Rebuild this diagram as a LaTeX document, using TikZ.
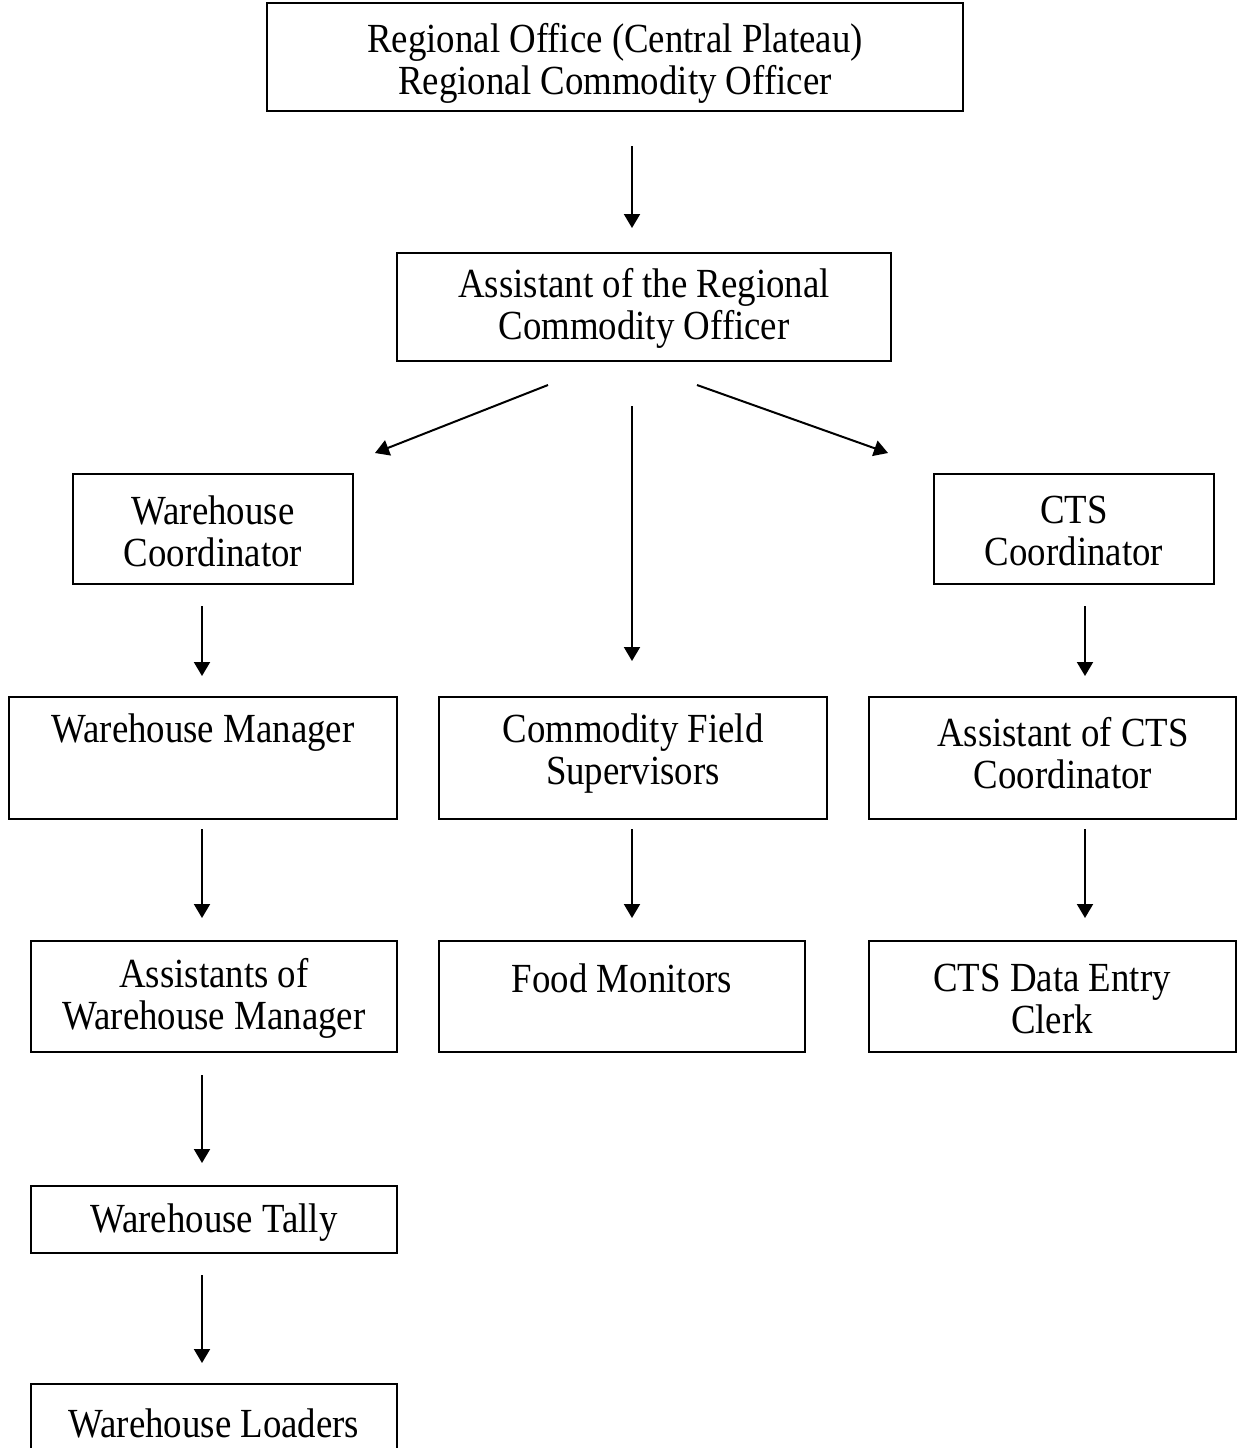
\documentclass[tikz,border=0pt]{standalone}
\usepackage{fontspec}
\setmainfont[FakeStretch=0.89]{Liberation Serif}
\usetikzlibrary{arrows.meta}
\begin{document}
\begin{tikzpicture}[x=0.5pt,y=-0.5pt,
  box/.style={draw,line width=1pt,rectangle,inner sep=0pt},
  txt/.style={align=center,inner sep=0pt,font=\fontsize{20.7}{21}\selectfont},
  conn/.style={line width=1pt,-{Triangle[length=7pt,width=8pt]}}]
\useasboundingbox (0,0) rectangle (1252,1448);
% boxes
\node[box,minimum width=348pt,minimum height=54pt] (reg) at (615,57) {};
\node[txt] (regt) at (615,63) {Regional Office (Central Plateau)\\Regional Commodity Officer};
\node[box,minimum width=247pt,minimum height=54pt] (asst) at (644,307) {};
\node[txt] (asstt) at (644,308) {Assistant of the Regional\\Commodity Officer};
\node[box,minimum width=140pt,minimum height=55pt] (wc) at (213,529) {};
\node[txt] (wct) at (213,531) {Warehouse\\Coordinator};
\node[box,minimum width=140pt,minimum height=55pt] (ctsc) at (1074,529) {};
\node[txt] (ctsct) at (1074,531) {CTS\\Coordinator};
\node[box,minimum width=194pt,minimum height=61pt] (wm) at (203,758) {};
\node[txt] (wmt) at (203,733) {Warehouse Manager};
\node[box,minimum width=194pt,minimum height=61pt] (cfs) at (633,758) {};
\node[txt] (cfst) at (633,753.5) {Commodity Field\\Supervisors};
\node[box,minimum width=183.5pt,minimum height=61pt] (acts) at (1052.5,758) {};
\node[txt] (actst) at (1063,753.5) {Assistant of CTS\\Coordinator};
\node[box,minimum width=183pt,minimum height=55.5pt] (awm) at (214,996.5) {};
\node[txt] (awmt) at (214,998.5) {Assistants of\\Warehouse Manager};
\node[box,minimum width=183pt,minimum height=55.5pt] (fm) at (622,996.5) {};
\node[txt] (fmt) at (622,978) {Food Monitors};
\node[box,minimum width=183.5pt,minimum height=55.5pt] (cde) at (1052.5,996.5) {};
\node[txt] (cdet) at (1052,998.5) {CTS Data Entry\\Clerk};
\node[box,minimum width=183pt,minimum height=33.5pt] (tally) at (214,1219.5) {};
\node[txt] (tallyt) at (214,1223) {Warehouse Tally};
\node[box,minimum width=183pt,minimum height=34pt] (load) at (214,1418) {};
\node[txt] (loadt) at (214,1423) {Warehouse Loaders};
% connector end points
\coordinate (a1s) at (632,146); \coordinate (a1e) at (632,228);
\coordinate (a2s) at (548,385); \coordinate (a2e) at (375,453);
\coordinate (a3s) at (632,406); \coordinate (a3e) at (632,661);
\coordinate (a4s) at (697,385); \coordinate (a4e) at (888,453);
\coordinate (a5s) at (202,606); \coordinate (a5e) at (202,676);
\coordinate (a6s) at (1085,606); \coordinate (a6e) at (1085,676);
\coordinate (a7s) at (202,829); \coordinate (a7e) at (202,918);
\coordinate (a8s) at (632,829); \coordinate (a8e) at (632,918);
\coordinate (a9s) at (1085,829); \coordinate (a9e) at (1085,918);
\coordinate (a10s) at (202,1075); \coordinate (a10e) at (202,1163);
\coordinate (a11s) at (202,1275); \coordinate (a11e) at (202,1363);
\foreach \i in {1,...,11} {\draw[conn] (a\i s) -- (a\i e);}
\end{tikzpicture}
\end{document}
